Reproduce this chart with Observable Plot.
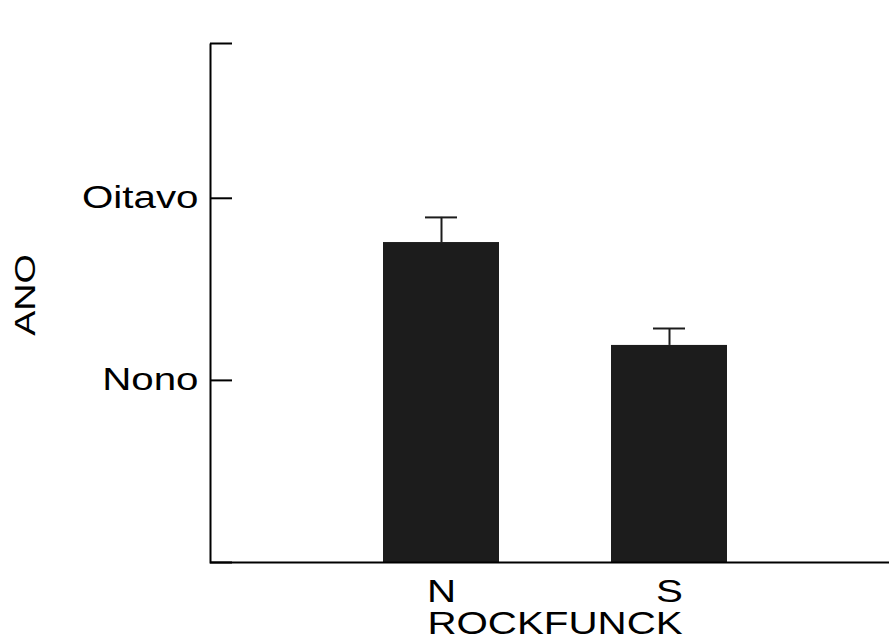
<!DOCTYPE html>
<html>
<head>
<meta charset="utf-8">
<script src="https://cdn.jsdelivr.net/npm/d3@7"></script>
<script src="https://cdn.jsdelivr.net/npm/@observablehq/plot@0.6"></script>
<style>
  html, body { margin: 0; padding: 0; background: white; }
</style>
</head>
<body>
<script>
const categories = ["N", "S"];
const means = [1.757, 1.192];
const errors = [0.138, 0.093];
const yTickValues = [1, 2];
const yTickLabels = ["Nono", "Oitavo"];
const yTickMarks = [0, 1, 2, 2.85];
const xLabel = "ROCKFUNCK";
const yLabel = "ANO";

const data = categories.map((c, i) => ({cat: c, value: means[i], err: errors[i]}));

const W = 889, H = 643, mL = 210, mR = 0, mT = 43, mB = 81;
const fw = W - mL - mR, fh = H - mT - mB;
const ink = "#1c1c1c";
const font = "'Liberation Sans', Arial, Helvetica, sans-serif";

const chart = Plot.plot({
  width: W,
  height: H,
  marginLeft: mL,
  marginRight: mR,
  marginTop: mT,
  marginBottom: mB,
  style: {fontFamily: font, background: "white", color: "black"},
  x: {domain: categories, range: [382, 727], paddingInner: 0.493, paddingOuter: 0, axis: null},
  y: {domain: [0, 2.85], axis: null},
  marks: [
    Plot.barY(data, {x: "cat", y: "value", fill: ink}),
    Plot.ruleX(data, {x: "cat", y1: "value", y2: d => d.value + d.err, stroke: ink, strokeWidth: 2}),
    Plot.tickY(data, {x: "cat", y: d => d.value + d.err, stroke: ink, strokeWidth: 2, insetLeft: 42, insetRight: 42}),
    Plot.frame({stroke: "black", strokeWidth: 2, strokeDasharray: `0 ${fw + fh} ${fw + fh}`}),
    Plot.axisY({ticks: yTickMarks, tickSize: 22, dx: 22, tickFormat: () => "", label: null, strokeWidth: 2, stroke: "black"}),
    Plot.axisY({ticks: yTickValues, tickSize: 0, tickPadding: 12, tickFormat: d => yTickLabels[yTickValues.indexOf(d)], label: null, fontSize: 31, fill: "black"}),
    Plot.axisX({tickSize: 0, tickPadding: 17, label: null, fontSize: 31, fill: "black"}),
    Plot.text([xLabel], {frameAnchor: "bottom", textAnchor: "middle", lineAnchor: "top", dy: 49, dx: 5, fontSize: 31, fill: "black", ariaLabel: "x-axis label"}),
    Plot.text([yLabel], {frameAnchor: "left", textAnchor: "middle", lineAnchor: "middle", rotate: -90, dx: -185, dy: -8, fontSize: 29, fill: "black", ariaLabel: "y-axis label"})
  ]
});

document.body.append(chart);

// horizontally widen the horizontal labels, as in the reference
chart.querySelectorAll("text").forEach(t => {
  const g = t.closest("g[aria-label]");
  if (g && g.getAttribute("aria-label") === "y-axis label") return;
  const len = t.getComputedTextLength();
  if (len > 0) {
    t.setAttribute("textLength", (len * 1.3).toFixed(1));
    t.setAttribute("lengthAdjust", "spacingAndGlyphs");
  }
});
</script>
</body>
</html>
